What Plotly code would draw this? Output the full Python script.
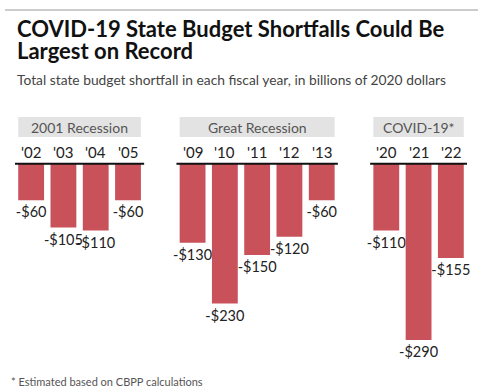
import plotly.graph_objects as go

groups = ["2001 Recession", "Great Recession", "COVID-19*"]
years = [["'02", "'03", "'04", "'05"],
         ["'09", "'10", "'11", "'12", "'13"],
         ["'20", "'21", "'22"]]
values = [[-60, -105, -110, -60],
          [-130, -230, -150, -120, -60],
          [-110, -290, -155]]

title_lines = ["COVID-19 State Budget Shortfalls Could Be", "Largest on Record"]
subtitle = "Total state budget shortfall in each fiscal year, in billions of 2020 dollars"
footnote = "* Estimated based on CBPP calculations"

BAR = "#c8515a"
W, H = 501, 389
M_T, M_B, M_L, M_R = 100, 29, 15, 34
Y_RANGE = [-323, 105]
plot_h = H - M_T - M_B
plot_w = W - M_L - M_R
px_per_unit = plot_h / (Y_RANGE[1] - Y_RANGE[0])


def px_to_y(py):
    return Y_RANGE[1] - (py - M_T) / px_per_unit


def pap_x(px):
    return (px - M_L) / plot_w


def pap_y(py):
    return 1 - (py - M_T) / plot_h


# compute slot positions: one empty slot between groups
xs, ys, texts, tick_pos, tick_txt, spans = [], [], [], [], [], []
pos = 0
for g, (yrs, vals) in enumerate(zip(years, values)):
    start = pos
    for yr, v in zip(yrs, vals):
        xs.append(pos)
        ys.append(v)
        texts.append(f"-${abs(v)}")
        tick_pos.append(pos)
        tick_txt.append(yr)
        pos += 1
    spans.append((start, pos - 1))
    pos += 1

fig = go.Figure()
fig.add_trace(go.Bar(
    x=xs, y=ys, text=texts, textposition="outside", constraintext="none",
    cliponaxis=False, marker_color=BAR, marker_line_width=0,
    textfont=dict(family="Lato", size=14.5, color="#222"),
    hoverinfo="skip",
))

BW = 0.8
shapes, annotations = [], []
for (a, b), name in zip(spans, groups):
    shapes.append(dict(type="line", xref="x", yref="y", x0=a - 0.5, x1=b + 0.5,
                       y0=0, y1=0, line=dict(color="#111", width=2)))
    shapes.append(dict(type="rect", xref="x", yref="y", x0=a - BW / 2, x1=b + BW / 2,
                       y0=px_to_y(137), y1=px_to_y(117), fillcolor="#e3e3e3",
                       line_width=0, layer="below"))
    annotations.append(dict(x=(a + b) / 2, y=px_to_y(127), xref="x", yref="y",
                            text=name, showarrow=False,
                            font=dict(family="Lato", size=14, color="#555")))
for p, t in zip(tick_pos, tick_txt):
    annotations.append(dict(x=p, y=px_to_y(152), xref="x", yref="y", text=t,
                            showarrow=False,
                            font=dict(family="Lato", size=15, color="#222")))

common = dict(xref="paper", yref="paper", xanchor="left", yanchor="middle", showarrow=False)
annotations.append(dict(x=pap_x(15), y=pap_y(28.5), text=f"<b>{title_lines[0]}</b>",
                        font=dict(family="Lato", size=22, color="#111"), **common))
annotations.append(dict(x=pap_x(15), y=pap_y(50.5), text=f"<b>{title_lines[1]}</b>",
                        font=dict(family="Lato", size=22, color="#111"), **common))
annotations.append(dict(x=pap_x(15), y=pap_y(79), text=subtitle,
                        font=dict(family="Lato", size=13.8, color="#444"), **common))
annotations.append(dict(x=pap_x(9), y=pap_y(381), text=footnote,
                        font=dict(family="Lato", size=11, color="#555"), **common))
shapes.append(dict(type="line", xref="paper", yref="paper", x0=pap_x(5), x1=pap_x(478),
                   y0=pap_y(10), y1=pap_y(10), line=dict(color="#999", width=1)))

fig.update_layout(
    width=W, height=H, margin=dict(t=M_T, b=M_B, l=M_L, r=M_R),
    plot_bgcolor="white", paper_bgcolor="white", showlegend=False,
    bargap=0.2,
    xaxis=dict(range=[-0.5, pos - 1.5], visible=False, fixedrange=True),
    yaxis=dict(range=Y_RANGE, visible=False, fixedrange=True),
    shapes=shapes, annotations=annotations,
)
fig.write_html("out.html", config={"displayModeBar": False},
               post_script="document.body.style.margin='0';")
